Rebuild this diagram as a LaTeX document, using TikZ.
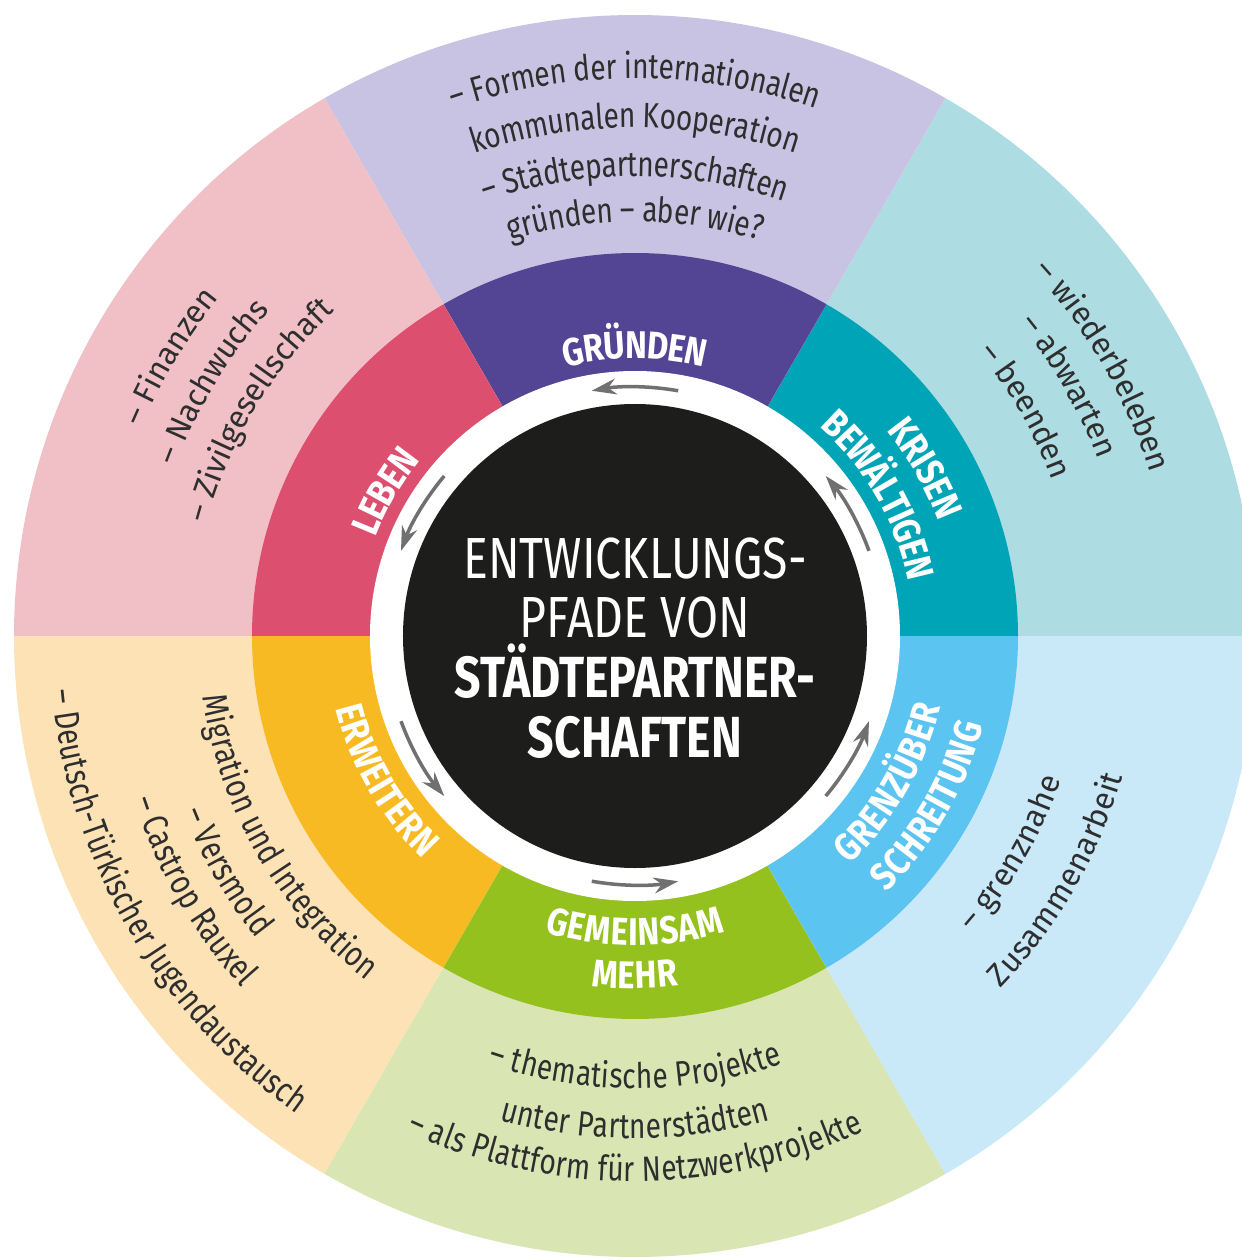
\documentclass[tikz,border=0pt]{standalone}
\usepackage{fontspec}
\setmainfont{Fira Sans}
\newfontfamily\condfont[FakeStretch=0.8]{Fira Sans}
\newfontfamily\ringfont[FakeStretch=0.85]{Fira Sans}
\usepackage{xcolor}
\usepackage{tikz}
\usetikzlibrary{arrows.meta,decorations.text}
\definecolor{SoftAqua}{HTML}{AEDCE3}
\definecolor{SoftLilac}{HTML}{C8C3E2}
\definecolor{SoftPink}{HTML}{F0C0C6}
\definecolor{SoftApricot}{HTML}{FDE2B6}
\definecolor{SoftLime}{HTML}{D9E5B2}
\definecolor{SoftSky}{HTML}{C9E8F8}
\definecolor{KrisenTeal}{HTML}{00A4B7}
\definecolor{GruendenViolet}{HTML}{544494}
\definecolor{LebenRed}{HTML}{DC4F6E}
\definecolor{ErweiternYellow}{HTML}{F8BA22}
\definecolor{MehrGreen}{HTML}{95C11F}
\definecolor{GrenzBlue}{HTML}{5BC4F1}
\definecolor{CoreBlack}{HTML}{1D1D1B}
\definecolor{ArrowGrey}{HTML}{707070}
\definecolor{TextGrey}{HTML}{2E2E2E}
\tikzset{
  % Text on an arc, condensed
  txtC/.style={decorate,decoration={text along path,text align=center,
               raise=-6pt,text color=TextGrey,
               text={|\condfont\fontsize{20}{24}\selectfont|#1}}},
  % Text on an arc, plain
  txtP/.style={decorate,decoration={text along path,text align=center,
               raise=-5.4pt,text color=TextGrey,
               text={|\fontsize{18}{22}\selectfont|#1}}},
  % Ring label
  txtR/.style={decorate,decoration={text along path,text align=center,
               raise=-7.7pt,text color=white,
               text={|\ringfont\bfseries\fontsize{22}{26}\selectfont|#1}}},
  % Arrow in the white ring
  ringarr/.style={-{Stealth[length=14pt,width=9pt]},line width=2pt,ArrowGrey},
  % Centre title
  core/.style={align=center,text=white,
               font=\condfont\fontsize{33}{34}\selectfont}
}

\begin{document}
\begin{tikzpicture}[x=0.2mm,y=0.2mm]
  \useasboundingbox (-635,-624) rectangle (607,636);
  \clip (-635,-624) rectangle (607,636);
  \coordinate (hub) at (0,0);
  % sectors, outer and middle ring
  \foreach \a/\soft/\strong in {0/SoftAqua/KrisenTeal,60/SoftLilac/GruendenViolet,
      120/SoftPink/LebenRed,180/SoftApricot/ErweiternYellow,
      240/SoftLime/MehrGreen,300/SoftSky/GrenzBlue}{
    \fill[\soft] (hub) -- (\a:621) arc[start angle=\a,end angle=\a+60,radius=621] -- cycle;
    \fill[\strong] (hub) -- (\a:383) arc[start angle=\a,end angle=\a+60,radius=383] -- cycle;
  }
  \fill[white] (hub) circle[radius=265];
  \fill[CoreBlack] (hub) circle[radius=232];
  \foreach \a in {30,90,...,330}
    \draw[ringarr] ({\a-10}:249) arc[start angle=\a-10,end angle=\a+10,radius=249];
  \node[core] (core) at (0,-12)
    {ENTWICKLUNGS-\\PFADE VON\\\textbf{STÄDTEPARTNER-}\\\textbf{SCHAFTEN}};

  % ring labels
  \path[txtR={GRÜNDEN}] (130:291) arc[start angle=130,end angle=50,radius=291];
  \path[txtR={LEBEN}] (190:291) arc[start angle=190,end angle=110,radius=291];
  \path[txtR={KRISEN}] (70:338) arc[start angle=70,end angle=-10,radius=338];
  \path[txtR={BEWÄLTIGEN}] (70:292) arc[start angle=70,end angle=-10,radius=292];
  \path[txtR={ERWEITERN}] (170:294) arc[start angle=170,end angle=250,radius=294];
  \path[txtR={GEMEINSAM}] (230:296) arc[start angle=230,end angle=310,radius=296];
  \path[txtR={MEHR}] (230:339) arc[start angle=230,end angle=310,radius=339];
  \path[txtR={GRENZÜBER}] (290:300) arc[start angle=290,end angle=370,radius=300];
  \path[txtR={SCHREITUNG}] (290:346) arc[start angle=290,end angle=370,radius=346];

  % outer texts
  \path[txtC={– Formen der internationalen}] (130:568) arc[start angle=130,end angle=50,radius=568];
  \path[txtC={kommunalen Kooperation}] (130:519) arc[start angle=130,end angle=50,radius=519];
  \path[txtC={– Städtepartnerschaften}] (130:470) arc[start angle=130,end angle=50,radius=470];
  \path[txtC={gründen – aber wie?}] (130:425) arc[start angle=130,end angle=50,radius=425];
  \path[txtP={– Finanzen}] (189:545) arc[start angle=189,end angle=109,radius=545];
  \path[txtP={– Nachwuchs}] (189:499) arc[start angle=189,end angle=109,radius=499];
  \path[txtP={– Zivilgesellschaft}] (189:452) arc[start angle=189,end angle=109,radius=452];
  \path[txtP={– wiederbeleben}] (70:550) arc[start angle=70,end angle=-10,radius=550];
  \path[txtP={– abwarten}] (70:505) arc[start angle=70,end angle=-10,radius=505];
  \path[txtP={– beenden}] (70:455) arc[start angle=70,end angle=-10,radius=455];
  \path[txtP={– grenznahe}] (290:440) arc[start angle=290,end angle=370,radius=440];
  \path[txtP={Zusammenarbeit}] (290:498) arc[start angle=290,end angle=370,radius=498];
  \path[txtC={– thematische Projekte}] (230:442) arc[start angle=230,end angle=310,radius=442];
  \path[txtC={unter Partnerstädten}] (230:492) arc[start angle=230,end angle=310,radius=492];
  \path[txtC={– als Plattform für Netzwerkprojekte}] (230:535) arc[start angle=230,end angle=310,radius=535];
  \path[txtC={Migration und Integration}] (170:426) arc[start angle=170,end angle=250,radius=426];
  \path[txtC={– Versmold}] (170:474) arc[start angle=170,end angle=250,radius=474];
  \path[txtC={– Castrop Rauxel}] (170:517) arc[start angle=170,end angle=250,radius=517];
  \path[txtC={– Deutsch-Türkischer Jugendaustausch}] (170:575) arc[start angle=170,end angle=250,radius=575];
\end{tikzpicture}
\end{document}
